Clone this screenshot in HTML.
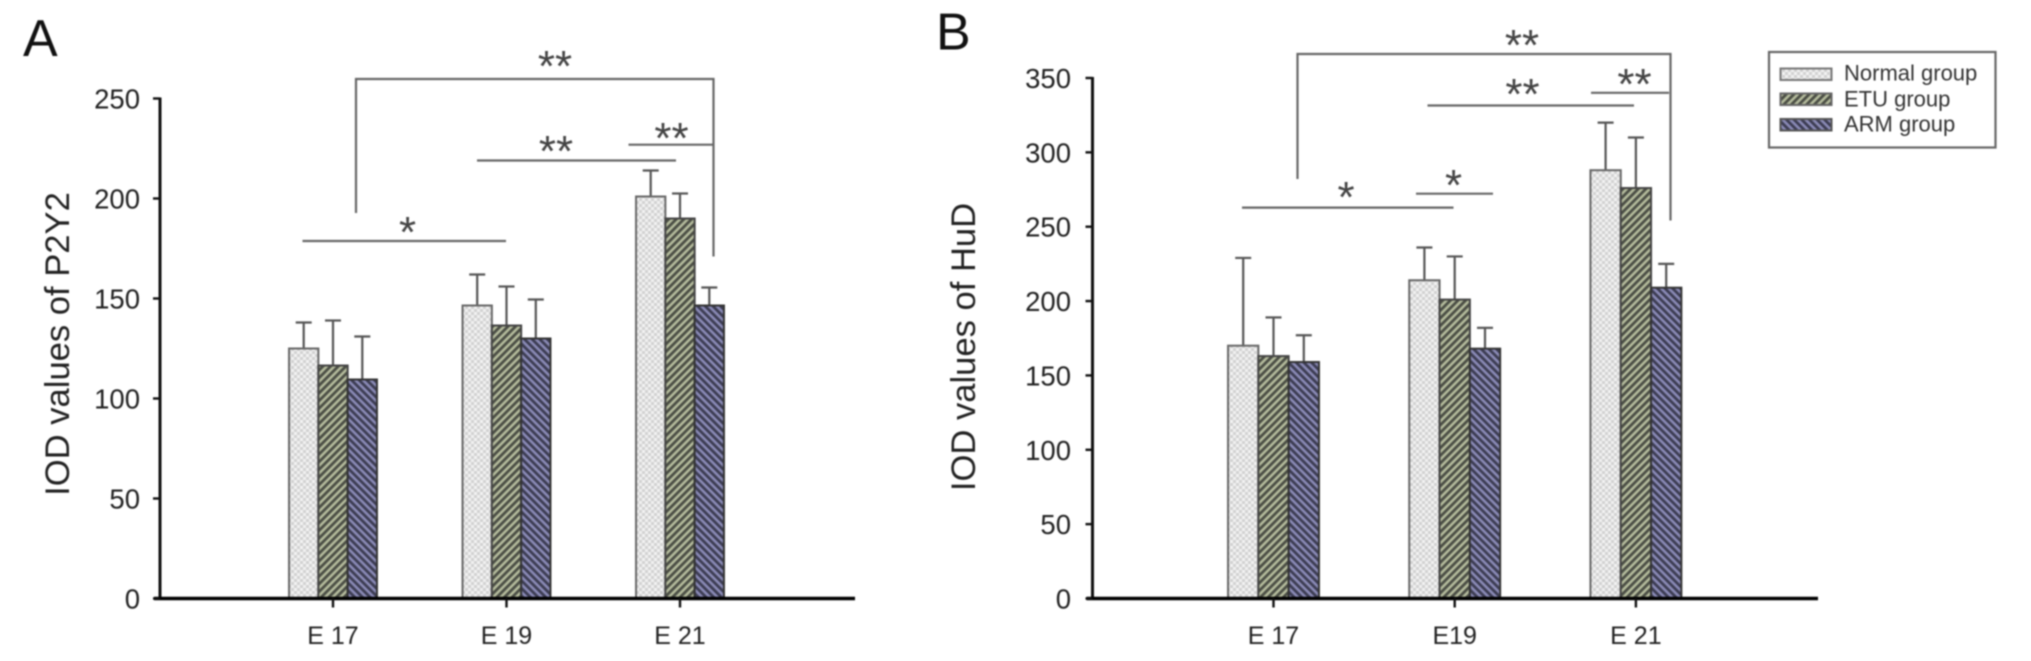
<!DOCTYPE html>
<html lang="en">
<head>
<meta charset="utf-8">
<title>IOD values of P2Y2 and HuD</title>
<style>
html,body{margin:0;padding:0;background:#fff;width:2031px;height:661px;overflow:hidden}
svg{display:block;font-family:"Liberation Sans",Arial,sans-serif}
#root{filter:blur(0.8px)}
.bk{stroke:#666;stroke-width:2.2;fill:none}
.star{font-size:44px;fill:#444;text-anchor:middle}
.panel{font-size:52px;fill:#111}
.leg{font-size:22px;fill:#333}
</style>
</head>
<body>
<svg id="chart" xmlns="http://www.w3.org/2000/svg" width="2031" height="661" viewBox="0 0 2031 661">
<defs>
<pattern id="pN" patternUnits="userSpaceOnUse" width="6" height="6">
<rect width="6" height="6" fill="#d2d2d2"/>
<rect x="0" y="0" width="3" height="3" fill="#f2f2f2"/>
<rect x="3" y="3" width="3" height="3" fill="#f0f0f0"/>
</pattern>
<pattern id="pE" patternUnits="userSpaceOnUse" width="5.4" height="5.4" patternTransform="rotate(45)">
<rect width="5.4" height="5.4" fill="#b4bb9c"/>
<rect x="0" y="0" width="2.8" height="5.4" fill="#4a4d44"/>
</pattern>
<pattern id="pA" patternUnits="userSpaceOnUse" width="5.4" height="5.4" patternTransform="rotate(-45)">
<rect width="5.4" height="5.4" fill="#8a8ab6"/>
<rect x="0" y="0" width="2.8" height="5.4" fill="#3c3c52"/>
</pattern>
</defs>
<g id="root">
<text class="panel" x="23" y="56">A</text>
<text class="panel" x="936" y="49.5">B</text>
<g id="panelA"></g>
<g id="panelB"></g>

<g>
<path class="bk" d="M356 213V79H713.5V256.5"/>
<path class="bk" d="M477 160.5H676"/>
<path class="bk" d="M628.5 144.7H713.5"/>
<path class="bk" d="M302.5 241H506"/>
<text class="star" x="555" y="81">**</text>
<text class="star" x="556" y="166">**</text>
<text class="star" x="671.5" y="153">**</text>
<text class="star" x="407.5" y="247">*</text>
</g>

<g>
<path class="bk" d="M1297.5 179V54H1670.5V220.5"/>
<path class="bk" d="M1427.5 105.5H1634"/>
<path class="bk" d="M1591 92.8H1669"/>
<path class="bk" d="M1242 207.6H1453.5"/>
<path class="bk" d="M1416 193.7H1493"/>
<text class="star" x="1522" y="60">**</text>
<text class="star" x="1522.5" y="109">**</text>
<text class="star" x="1634.5" y="99">**</text>
<text class="star" x="1346" y="212">*</text>
<text class="star" x="1453.5" y="200">*</text>
</g>

<g>
<rect x="1769" y="52" width="226.5" height="95.5" fill="#fff" stroke="#666" stroke-width="2.2"/>
<rect x="1780.5" y="68.5" width="51" height="11.5" fill="url(#pN)" stroke="#777" stroke-width="2"/>
<rect x="1780.5" y="93.5" width="51" height="11.5" fill="url(#pE)" stroke="#666" stroke-width="2"/>
<rect x="1780.5" y="119" width="51" height="11.5" fill="url(#pA)" stroke="#555" stroke-width="2"/>
<text class="leg" x="1844" y="80.5">Normal group</text>
<text class="leg" x="1844" y="106.5">ETU group</text>
<text class="leg" x="1844" y="131.5">ARM group</text>
</g>
</g>
</svg>
<script>
const seriesNames = ['normal', 'etu', 'arm'];

const categoriesA = ['E 17', 'E 19', 'E 21'];
const ticksA = [0, 50, 100, 150, 200, 250];
const normalA = [125, 146.5, 201];
const etuA = [116.5, 136.5, 190];
const armA = [109.5, 130, 146.5];
const normalErrA = [138, 162, 214];
const etuErrA = [139, 156, 202.5];
const armErrA = [131, 149.5, 155.5];

const categoriesB = ['E 17', 'E19', 'E 21'];
const ticksB = [0, 50, 100, 150, 200, 250, 300, 350];
const normalB = [170, 214, 288];
const etuB = [163, 201, 276];
const armB = [159, 168, 209];
const normalErrB = [229, 236, 320];
const etuErrB = [189, 230, 310];
const armErrB = [177, 182, 225];

const NS = 'http://www.w3.org/2000/svg';
function make(parent, tag, attrs, text) {
  const el = document.createElementNS(NS, tag);
  for (const k in attrs) el.setAttribute(k, attrs[k]);
  if (text !== undefined) el.textContent = text;
  parent.appendChild(el);
  return el;
}

function drawPanel(cfg) {
  const g = document.getElementById(cfg.id);
  const yScale = v => cfg.y0 - (v - cfg.ticks[0]) / (cfg.ticks[cfg.ticks.length - 1] - cfg.ticks[0]) * (cfg.y0 - cfg.yTop);
  const xScale = i => cfg.x0 + i * cfg.step;

  cfg.series.forEach((vals, s) => {
    vals.forEach((v, i) => {
      const left = xScale(i) - cfg.barW * 1.5 + s * cfg.barW;
      const cx = left + cfg.barW / 2;
      const whisker = make(g, 'line', {x1: cx, x2: cx, y1: yScale(v), y2: yScale(cfg.errors[s][i]), stroke: '#555', 'stroke-width': 2.2});
      
      
      const cap = make(g, 'line', {x1: cx - 8, x2: cx + 8, y1: yScale(cfg.errors[s][i]), y2: yScale(cfg.errors[s][i]), stroke: '#555', 'stroke-width': 2.2});
      
      
      const bar = make(g, 'rect', {x: left, y: yScale(v), width: cfg.barW, height: cfg.y0 - yScale(v), fill: 'url(#' + ['pN', 'pE', 'pA'][s] + ')', stroke: ['#666', '#444', '#333'][s], 'stroke-width': 2});
      
      
    });
  });

  const yAxis = make(g, 'line', {x1: cfg.xAxis, x2: cfg.xAxis, y1: yScale(cfg.ticks[cfg.ticks.length - 1]) - 1, y2: cfg.y0, stroke: '#111', 'stroke-width': 3});
  
  
  const xAxis = make(g, 'line', {x1: cfg.xAxis - 6, x2: cfg.xEnd, y1: cfg.y0, y2: cfg.y0, stroke: '#000', 'stroke-width': 3.6});
  
  

  cfg.ticks.forEach(t => {
    const y = yScale(t);
    const tick = make(g, 'line', {x1: cfg.xAxis - 7, x2: cfg.xAxis, y1: y, y2: y, stroke: '#111', 'stroke-width': 2.4});
    
    
    const label = make(g, 'text', {x: cfg.labelRight, y: y + 10, 'text-anchor': 'end', 'font-size': 27.5, fill: '#222'}, t);
    
    
  });

  cfg.categories.forEach((c, i) => {
    const x = xScale(i);
    const tick = make(g, 'line', {x1: x, x2: x, y1: cfg.y0, y2: cfg.y0 + 9, stroke: '#111', 'stroke-width': 2.4});
    
    
    const label = make(g, 'text', {x: x, y: 644, 'text-anchor': 'middle', 'font-size': 25, fill: '#222'}, c);
    
    
  });

  const title = make(g, 'text', {transform: 'translate(' + cfg.titleX + ',' + cfg.titleY + ') rotate(-90)', 'text-anchor': 'middle', 'font-size': 34.6, fill: '#222'}, cfg.title);
  
  
}

drawPanel({id: 'panelA', title: 'IOD values of P2Y2', categories: categoriesA, ticks: ticksA,
  series: [normalA, etuA, armA], errors: [normalErrA, etuErrA, armErrA],
  x0: 333, step: 173.5, barW: 29.3, y0: 598.5, yTop: 98.5, xAxis: 160, xEnd: 855, labelRight: 140, titleX: 69, titleY: 344});
drawPanel({id: 'panelB', title: 'IOD values of HuD', categories: categoriesB, ticks: ticksB,
  series: [normalB, etuB, armB], errors: [normalErrB, etuErrB, armErrB],
  x0: 1273.5, step: 181.2, barW: 30.3, y0: 598.5, yTop: 78, xAxis: 1092.5, xEnd: 1818, labelRight: 1071, titleX: 975, titleY: 347});
</script>
</body>
</html>
